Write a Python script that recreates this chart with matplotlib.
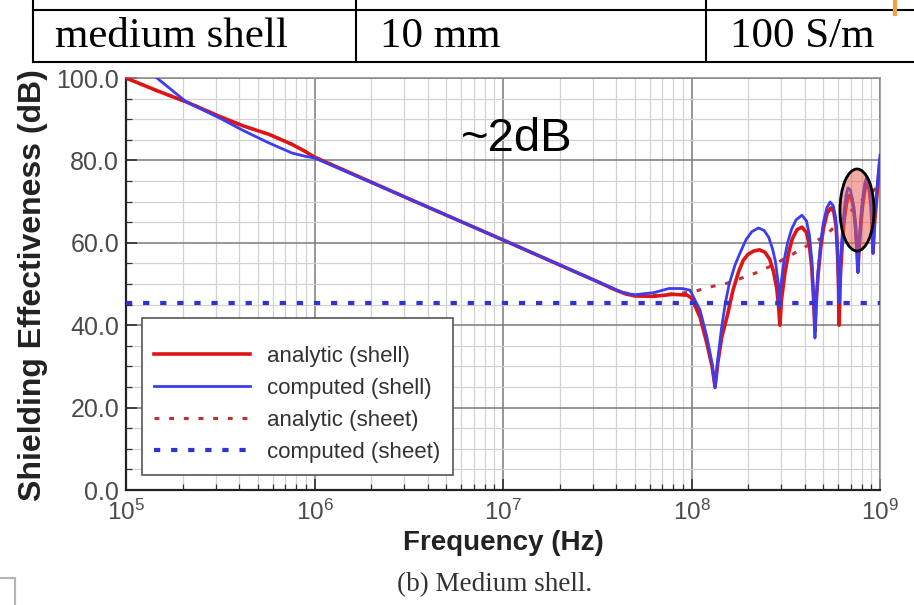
import numpy as np
import matplotlib
matplotlib.use("Agg")
import matplotlib.pyplot as plt
from matplotlib.patches import Ellipse
from matplotlib.lines import Line2D
from matplotlib.ticker import FixedLocator, FixedFormatter, NullFormatter

plt.rcParams['font.family'] = ['Liberation Sans', 'DejaVu Sans']

# ---- shielding effectiveness data (frequency given as log10(Hz)) ----
logf_analytic_shell = [5.00, 5.16, 5.32, 5.50, 5.62, 5.76, 5.88, 5.95, 6.00, 6.50, 7.00, 7.50,
                       7.60, 7.65, 7.70, 7.80, 7.90, 7.976, 8.00, 8.045, 8.082, 8.109, 8.125,
                       8.14, 8.16, 8.19, 8.22, 8.25, 8.275, 8.30, 8.33, 8.36, 8.39, 8.415, 8.435,
                       8.452, 8.462, 8.469,
                       8.477, 8.495, 8.515, 8.535, 8.56, 8.586, 8.61, 8.625, 8.638, 8.648, 8.655,
                       8.662, 8.672, 8.686, 8.70, 8.72, 8.74, 8.755, 8.767, 8.775, 8.78, 8.783,
                       8.79, 8.80, 8.81, 8.822, 8.835, 8.848, 8.86, 8.87, 8.877, 8.883,
                       8.89, 8.90, 8.91, 8.92, 8.932, 8.943, 8.952, 8.958, 8.963,
                       8.97, 8.98, 8.99, 9.00]
se_analytic_shell = [100.0, 97.0, 94.2, 90.6, 88.4, 86.3, 83.9, 82.2, 80.8, 70.7, 60.7, 50.6,
                     48.5, 47.6, 47.1, 47.0, 47.5, 47.3, 46.6, 42.0, 35.5, 30.0, 25.0,
                     31.0, 37.0, 42.3, 48.5, 53.0, 55.8, 57.2, 58.0, 58.3, 57.7, 56.0, 53.0,
                     49.0, 44.5, 40.0,
                     46.0, 52.5, 57.5, 61.0, 63.2, 63.8, 62.5, 59.5, 54.0, 46.0, 38.5,
                     46.0, 52.5, 59.0, 63.5, 67.2, 68.5, 67.5, 64.0, 57.0, 49.0, 40.0,
                     52.0, 60.0, 65.5, 69.5, 71.5, 71.0, 68.5, 64.0, 59.0, 53.0,
                     59.5, 65.5, 70.0, 73.0, 74.3, 73.0, 69.5, 64.0, 57.5,
                     64.0, 69.5, 75.0, 80.0]

logf_computed_shell = [5.00, 5.164, 5.32, 5.50, 5.62, 5.76, 5.88, 5.95, 6.00, 6.50, 7.00, 7.50,
                       7.60, 7.65, 7.70, 7.80, 7.88, 7.95, 7.992, 8.045, 8.082, 8.109, 8.125,
                       8.14, 8.16, 8.18, 8.20, 8.23, 8.26, 8.29, 8.32, 8.355, 8.385, 8.41, 8.43,
                       8.445, 8.458, 8.468,
                       8.475, 8.49, 8.51, 8.53, 8.555, 8.586, 8.61, 8.625, 8.638, 8.648, 8.655,
                       8.662, 8.671, 8.685, 8.70, 8.718, 8.735, 8.752, 8.765, 8.774, 8.779, 8.783,
                       8.79, 8.80, 8.81, 8.82, 8.83, 8.843, 8.855, 8.866, 8.875, 8.883,
                       8.89, 8.90, 8.91, 8.92, 8.93, 8.94, 8.95, 8.957, 8.963,
                       8.97, 8.98, 8.99, 9.00]
se_computed_shell = [105.0, 100.0, 94.2, 90.2, 87.3, 84.2, 81.8, 81.0, 80.6, 70.7, 60.7, 50.6,
                     48.6, 47.7, 47.4, 47.9, 48.9, 48.9, 48.5, 43.7, 37.1, 30.8, 24.8,
                     32.0, 39.5, 45.5, 50.0, 54.5, 57.8, 60.8, 62.7, 63.6, 63.0, 61.3, 58.5,
                     55.5, 51.0, 44.4,
                     50.0, 55.5, 60.0, 63.2, 65.6, 66.7, 65.3, 62.0, 56.0, 47.0, 36.9,
                     46.0, 52.7, 60.0, 65.0, 68.5, 69.9, 69.0, 66.0, 59.0, 52.0, 45.4,
                     55.0, 62.5, 68.0, 71.5, 73.3, 72.8, 70.2, 66.0, 60.0, 52.7,
                     60.5, 67.0, 71.5, 74.5, 76.0, 75.0, 71.5, 66.0, 57.5,
                     65.0, 71.0, 76.5, 81.3]

logf_analytic_sheet = [5.00, 5.16, 5.32, 5.50, 5.62, 5.76, 5.88, 5.95, 6.00, 6.50, 7.00, 7.50,
                       7.60, 7.70, 7.80, 7.90, 8.00, 8.10, 8.19, 8.27, 8.36, 8.44, 8.52, 8.61,
                       8.70, 8.77, 8.84, 8.91, 9.00]
se_analytic_sheet = [100.0, 97.0, 94.2, 90.6, 88.4, 86.3, 83.9, 82.2, 80.8, 70.7, 60.7, 50.6,
                     48.5, 47.2, 47.2, 47.6, 48.0, 49.3, 50.2, 51.5, 53.0, 54.8, 56.8, 59.2,
                     61.4, 64.3, 67.5, 70.6, 74.0]

logf_computed_sheet = [5.00, 9.00]
se_computed_sheet = [45.3, 45.3]

series_labels = ["analytic (shell)", "computed (shell)", "analytic (sheet)", "computed (sheet)"]

y_major = [0, 20, 40, 60, 80, 100]
y_major_labels = ["0.0", "20.0", "40.0", "60.0", "80.0", "100.0"]
x_major = [1e5, 1e6, 1e7, 1e8, 1e9]
x_major_labels = [r"$\mathregular{10^{5}}$", r"$\mathregular{10^{6}}$", r"$\mathregular{10^{7}}$",
                  r"$\mathregular{10^{8}}$", r"$\mathregular{10^{9}}$"]

table_cells = ["medium shell", "10 mm", "100 S/m"]

W, H = 914, 605
fig = plt.figure(figsize=(W / 100, H / 100), dpi=100)
fig.patch.set_facecolor("white")


def fx(px):
    return px / W


def fy(py):
    return 1 - py / H


ax = fig.add_axes([fx(126), fy(490), (880 - 126) / W, (490 - 78) / H])
ax.set_xscale("log")
ax.set_xlim(1e5, 1e9)
ax.set_ylim(0, 100)

# ticks and grid
ax.xaxis.set_major_locator(FixedLocator(x_major))
ax.xaxis.set_major_formatter(FixedFormatter(x_major_labels))
minor_x = [m * 10 ** e for e in range(5, 9) for m in range(2, 10)]
ax.xaxis.set_minor_locator(FixedLocator(minor_x))
ax.xaxis.set_minor_formatter(NullFormatter())
ax.yaxis.set_major_locator(FixedLocator(y_major))
ax.yaxis.set_major_formatter(FixedFormatter(y_major_labels))
ax.yaxis.set_minor_locator(FixedLocator([v for v in range(0, 101, 5) if v % 20]))

ax.grid(which="major", color="#7a7a7a", lw=1.1)
ax.grid(which="minor", color="#d2d2d2", lw=0.9)
ax.set_axisbelow(True)
ax.tick_params(which="both", direction="in", colors="#333333", labelcolor="#4a4a4a")
ax.tick_params(which="major", length=8, width=1.2, labelsize=18, pad=5)
ax.tick_params(which="minor", length=4, width=0.9)
ax.tick_params(axis="x", which="major", pad=7, labelsize=17.5)
for side in ["left", "bottom"]:
    ax.spines[side].set_color("#222222")
    ax.spines[side].set_linewidth(1.6)
for side in ["top", "right"]:
    ax.spines[side].set_color("#8a8a8a")
    ax.spines[side].set_linewidth(1.1)

# curves
l_as_sheet, = ax.plot(10.0 ** np.array(logf_analytic_sheet), se_analytic_sheet,
                      color="#c0303a", lw=2.2, ls=(0, (1.6, 3.2)), zorder=2)
l_as_shell, = ax.plot(10.0 ** np.array(logf_analytic_shell), se_analytic_shell,
                      color="#dd1515", lw=2.6, zorder=3)
l_cp_shell, = ax.plot(10.0 ** np.array(logf_computed_shell), se_computed_shell,
                      color="#3c3cf0", lw=2.0, zorder=4)
l_cp_sheet, = ax.plot(10.0 ** np.array(logf_computed_sheet), se_computed_sheet,
                      color="#3232d2", lw=3.0, ls=(0, (1.5, 2.6)), zorder=5)

leg = ax.legend([l_as_shell, l_cp_shell, l_as_sheet, l_cp_sheet], series_labels,
                loc="lower left", bbox_to_anchor=(0.021, 0.036), borderaxespad=0,
                fontsize=16, handlelength=4.3, handletextpad=0.8, labelspacing=0.5,
                borderpad=0.55, fancybox=False, framealpha=1, edgecolor="#555555",
                title=" ", title_fontsize=3)
leg.get_frame().set_linewidth(1.2)
for t in leg.get_texts():
    t.set_color("#333333")
leg.set_zorder(7)

# highlighted resonance region
ax.add_patch(Ellipse((0.9695, 0.6796), 0.0451, 0.199, transform=ax.transAxes,
                     facecolor=(0.9, 0.35, 0.3, 0.5), edgecolor="black", lw=2.0,
                     zorder=6, clip_on=False))

fig.text(fx(517), fy(139), "~2dB", fontsize=34, ha="center", va="center", color="black")

# axis titles and caption
fig.text(fx(33), fy(285), "Shielding Effectiveness (dB)", rotation=90, fontsize=23,
         fontweight="bold", ha="center", va="center", color="#222222")
fig.text(fx(503), fy(543), "Frequency (Hz)", fontsize=20, fontweight="bold",
         ha="center", va="center", color="#222222")
fig.text(fx(495), fy(585), "(b) Medium shell.", family="Liberation Serif", fontsize=19.5,
         ha="center", va="center", color="#333333")

# parameter table row
def fig_line(x0, y0, x1, y1, color="black", lw=1.5):
    fig.add_artist(Line2D([fx(x0), fx(x1)], [fy(y0), fy(y1)], color=color, lw=lw,
                          transform=fig.transFigure))


fig_line(33, 10, 914, 10)
fig_line(33, 62, 914, 62)
for xv in [33, 356, 706]:
    fig_line(xv, 0, xv, 62)
for xt, txt in zip([55, 380, 730], table_cells):
    fig.text(fx(xt), fy(37), txt, family="Liberation Serif", fontsize=31,
             ha="left", va="center", color="black")
fig_line(895, 0, 895, 14, color="#f5a040", lw=3)
fig_line(0, 578, 15, 578, color="#b5b5b5", lw=1.5)
fig_line(15, 578, 15, 605, color="#b5b5b5", lw=1.5)

fig.savefig("out.png", dpi=100, facecolor="white")
